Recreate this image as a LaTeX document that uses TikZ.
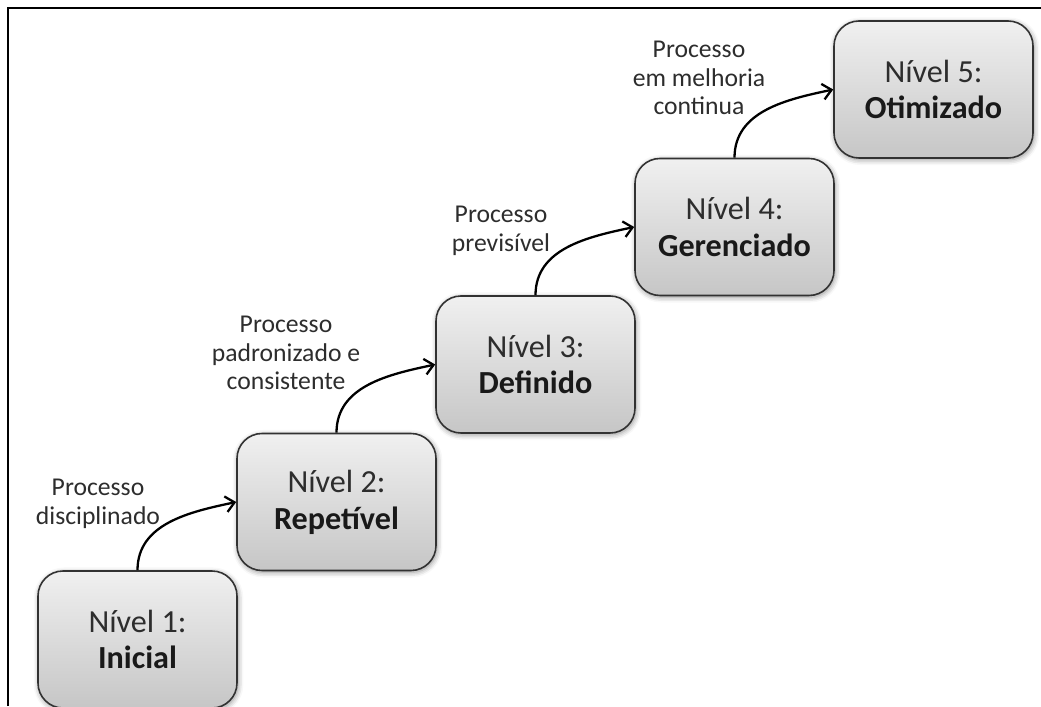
\documentclass[tikz,border=0pt]{standalone}
\usepackage{fontspec}
\setmainfont{Carlito}
\usetikzlibrary{arrows.meta,shadows.blur}
\definecolor{bordaCinza}{RGB}{50,50,50}
\definecolor{textoCinza}{RGB}{45,45,45}
\definecolor{negritoCinza}{RGB}{25,25,25}
\definecolor{topoCinza}{RGB}{240,240,240}
\definecolor{baseCinza}{RGB}{198,198,198}
\tikzset{
  nivel/.style={draw=bordaCinza, line width=0.9pt, rounded corners=0.5cm,
    minimum width=3.98cm, minimum height=2.74cm, align=center,
    top color=topoCinza, bottom color=baseCinza, text=textoCinza,
    font=\fontsize{18.3}{21}\selectfont,
    blur shadow={shadow xshift=0.6pt, shadow yshift=-1pt, shadow blur radius=3pt, shadow opacity=45}},
  rotulo/.style={align=center, text=textoCinza, font=\fontsize{14.6}{16.2}\selectfont},
  seta/.style={-{Straight Barb[length=5pt,width=9pt]}, line width=1.3pt}
}
\newcommand{\nomenivel}[1]{\textcolor{negritoCinza}{\textbf{#1}}}
\begin{document}
\begin{tikzpicture}
  \useasboundingbox (0,0) rectangle (20.82,14.12);
  % Moldura
  \draw[line width=1pt] (0.16,0) -- (0.16,13.96) -- (20.82,13.96);
  % Niveis
  \node[nivel] (n1) at (2.75,1.33) {Nível 1:\\\nomenivel{Inicial}};
  \node[nivel] (n2) at (6.73,4.08) {Nível 2:\\\nomenivel{Repetível}};
  \node[nivel] (n3) at (10.71,6.83) {Nível 3:\\\nomenivel{Definido}};
  \node[nivel] (n4) at (14.69,9.58) {Nível 4:\\\nomenivel{Gerenciado}};
  \node[nivel] (n5) at (18.67,12.33) {Nível 5:\\\nomenivel{Otimizado}};
  % Rotulos
  \node[rotulo] (p1) at (1.96,4.04) {Processo\\disciplinado};
  \node[rotulo] (p2) at (5.72,7.06) {Processo\\padronizado e\\consistente};
  \node[rotulo] (p3) at (10.02,9.5) {Processo\\previsível};
  \node[rotulo] (p4) at (13.98,12.56) {Processo\\em melhoria\\continua};
  % Setas
  \draw[seta] (n1.north) to[out=90,in=192] (n2.west);
  \draw[seta] (n2.north) to[out=90,in=192] (n3.west);
  \draw[seta] (n3.north) to[out=90,in=192] (n4.west);
  \draw[seta] (n4.north) to[out=90,in=192] (n5.west);
\end{tikzpicture}
\end{document}
